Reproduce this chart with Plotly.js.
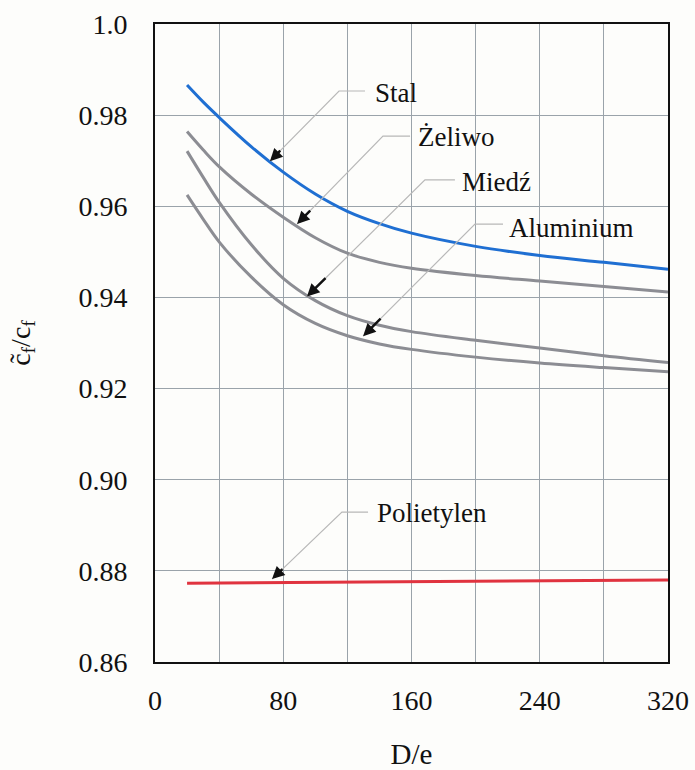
<!DOCTYPE html>
<html>
<head>
<meta charset="utf-8">
<script src="https://cdn.plot.ly/plotly-3.0.1.min.js"></script>
<style>html,body{margin:0;padding:0;background:#fdfdfb;}</style>
</head>
<body>
<div id="chart" style="width:695px;height:770px;"></div>
<script>
// D/e values
const xDe = [20, 30, 40, 60, 80, 100, 120, 140, 160, 200, 240, 280, 320];
const stal      = [0.9866, 0.9829, 0.9795, 0.9731, 0.9675, 0.9627, 0.9589, 0.9562, 0.9541, 0.9512, 0.9492, 0.9477, 0.9462];
const zeliwo    = [0.9764, 0.9724, 0.9687, 0.9627, 0.9576, 0.9531, 0.9497, 0.9477, 0.9464, 0.9448, 0.9436, 0.9424, 0.9412];
const miedz     = [0.9721, 0.9664, 0.9609, 0.9516, 0.9442, 0.9393, 0.9360, 0.9339, 0.9325, 0.9306, 0.9289, 0.9272, 0.9257];
const aluminium = [0.9625, 0.9572, 0.9522, 0.9445, 0.9384, 0.9343, 0.9316, 0.9298, 0.9286, 0.9269, 0.9256, 0.9246, 0.9237];
const xPoli = [20, 320];
const polietylen = [0.8773, 0.8780];

const yTickVals = [0.86, 0.88, 0.90, 0.92, 0.94, 0.96, 0.98, 1.0];
const yTickText = ['0.86', '0.88', '0.90', '0.92', '0.94', '0.96', '0.98', '1.0'];
const xTickVals = [0, 80, 160, 240, 320];
const xTickText = ['0', '80', '160', '240', '320'];

// Labels: name, text position, leader kink, leader horizontal end, arrow tip
const labelNames = ['Stal', 'Żeliwo', 'Miedź', 'Aluminium', 'Polietylen'];
const labelX  = [136.0, 162.8, 190.3, 219.6, 137.2];
const labelY  = [0.9849, 0.9752, 0.9653, 0.9552, 0.8927];
const kinkX   = [114.8, 142.2, 168.4, 199.6, 116.6];
const kinkY   = [0.9853, 0.9754, 0.9658, 0.9561, 0.8929];
const hEndX   = [131.0, 159.1, 187.1, 217.1, 132.9];
const tipX    = [71.7, 88.6, 94.8, 129.8, 73.0];
const tipY    = [0.9699, 0.9561, 0.9402, 0.9315, 0.8782];

const serif = 'Liberation Serif, Times New Roman, serif';

const traces = [
  {x: xDe, y: stal, name: 'Stal', mode: 'lines', line: {color: '#1f6fd2', width: 3, shape: 'spline', smoothing: 1}},
  {x: xDe, y: zeliwo, name: 'Żeliwo', mode: 'lines', line: {color: '#8c8d93', width: 3, shape: 'spline', smoothing: 1}},
  {x: xDe, y: miedz, name: 'Miedź', mode: 'lines', line: {color: '#8c8d93', width: 3, shape: 'spline', smoothing: 1}},
  {x: xDe, y: aluminium, name: 'Aluminium', mode: 'lines', line: {color: '#8c8d93', width: 3, shape: 'spline', smoothing: 1}},
  {x: xPoli, y: polietylen, name: 'Polietylen', mode: 'lines', line: {color: '#e0333f', width: 3}}
];

const shapes = [];
const annotations = [];
for (let i = 0; i < labelNames.length; i++) {
  shapes.push({
    type: 'path', xref: 'x', yref: 'y',
    path: `M ${hEndX[i]},${kinkY[i]} L ${kinkX[i]},${kinkY[i]} L ${tipX[i]},${tipY[i]}`,
    line: {color: '#b8b8b8', width: 1.2}
  });
  annotations.push({
    x: labelX[i], y: labelY[i], xref: 'x', yref: 'y', text: labelNames[i],
    showarrow: false, xanchor: 'left', yanchor: 'middle',
    font: {family: serif, size: 27, color: '#111'}
  });
  annotations.push({
    x: tipX[i], y: tipY[i], xref: 'x', yref: 'y', text: '',
    showarrow: true, arrowhead: 2, arrowsize: 1, arrowwidth: 2.5, arrowcolor: '#111',
    axref: 'x', ayref: 'y',
    ax: tipX[i] + (kinkX[i] - tipX[i]) * 0.17,
    ay: tipY[i] + (kinkY[i] - tipY[i]) * 0.17,
    standoff: 0
  });
}

const layout = {
  width: 695, height: 770,
  paper_bgcolor: '#fdfdfb', plot_bgcolor: '#fdfdfb',
  margin: {l: 155, r: 27, t: 24, b: 108},
  showlegend: false,
  font: {family: serif, color: '#111'},
  xaxis: {
    range: [0, 320], tickvals: xTickVals, ticktext: xTickText,
    showgrid: true, gridcolor: '#9aa3aa', gridwidth: 1,
    minor: {dtick: 40, tick0: 0, showgrid: true, gridcolor: '#9aa3aa', gridwidth: 1},
    showline: true, linecolor: '#111', linewidth: 2, mirror: true,
    ticks: '', zeroline: false, ticklabelstandoff: 12,
    tickfont: {family: serif, size: 28, color: '#111'},
    title: {text: 'D/e', font: {family: serif, size: 29, color: '#111'}, standoff: 32}
  },
  yaxis: {
    range: [0.86, 1.0], tickvals: yTickVals, ticktext: yTickText,
    showgrid: true, gridcolor: '#9aa3aa', gridwidth: 1,
    showline: true, linecolor: '#111', linewidth: 2, mirror: true,
    ticks: '', zeroline: false, ticklabelstandoff: 20,
    tickfont: {family: serif, size: 28, color: '#111'},
    title: {text: 'c\u0303<sub>f</sub>/c<sub>f</sub>', font: {family: serif, size: 28, color: '#111'}, standoff: 40}
  },
  shapes: shapes,
  annotations: annotations
};

Plotly.newPlot('chart', traces, layout, {displayModeBar: false, staticPlot: true});
</script>
</body>
</html>
